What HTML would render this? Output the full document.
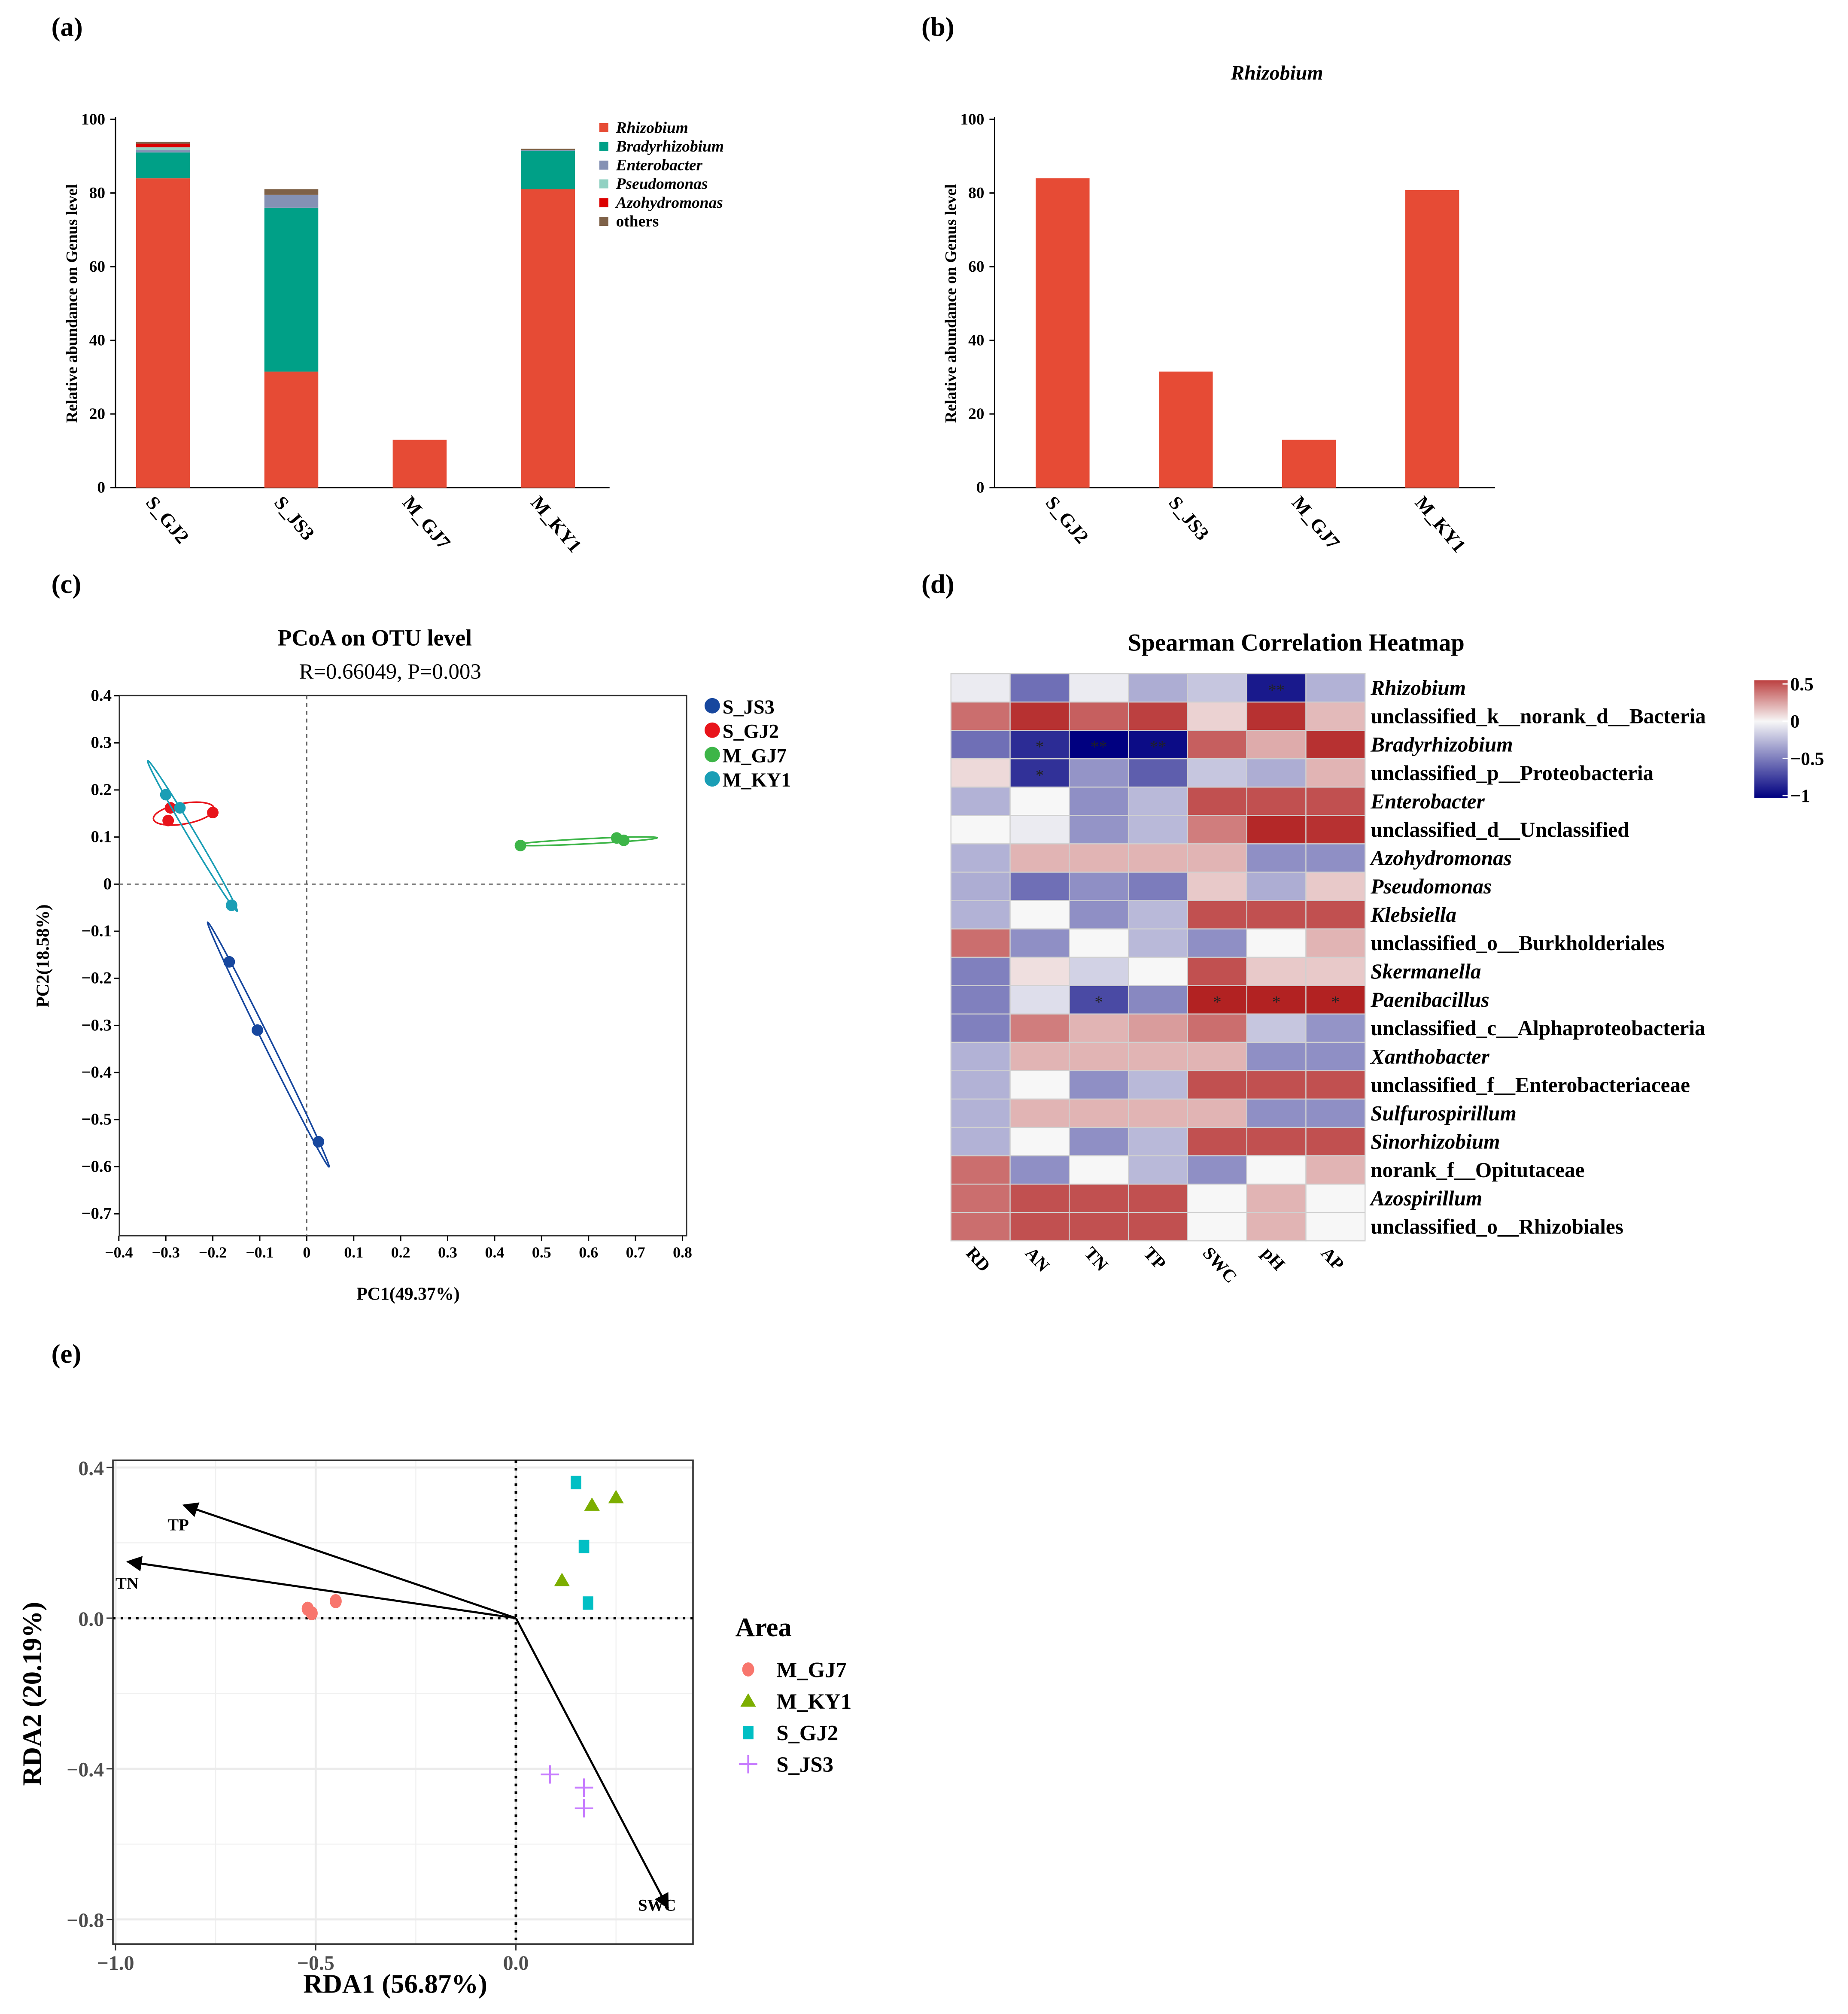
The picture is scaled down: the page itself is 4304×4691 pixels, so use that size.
<!DOCTYPE html>
<html><head><meta charset="utf-8"><style>
html,body{margin:0;padding:0;background:#fff;}
svg{display:block;font-family:"Liberation Serif",serif;}
</style></head><body>
<svg id="fig" width="4304" height="4691" viewBox="0 0 1440 1569.5" xmlns="http://www.w3.org/2000/svg">
</svg>
<script>
// ---------- DATA ----------
const barSamples = ['S_GJ2','S_JS3','M_GJ7','M_KY1'];
const genera = ['Rhizobium','Bradyrhizobium','Enterobacter','Pseudomonas','Azohydromonas','others'];
const rhizobium = [84, 31.5, 13, 81];
const bradyrhizobium = [7, 44.5, 0, 10.5];
const enterobacter = [0.6, 3.5, 0, 0.2];
const pseudomonas = [0.8, 0, 0, 0];
const azohydromonas = [1.0, 0, 0, 0];
const others = [0.5, 1.5, 0, 0.3];
const genusColors = ['#e64b35','#00a087','#8491b4','#91d1c2','#dc0000','#7e6148'];
const rhizOnly = [84, 31.5, 13, 80.8];
const barTicks = [0,20,40,60,80,100];

const pcoaGroups = ['S_JS3','S_GJ2','M_GJ7','M_KY1'];
const pcoaColors = ['#17479e','#e8141b','#3db548','#1a9eb5'];
const pcoaX = [[-0.165,-0.105,0.025],[-0.295,-0.29,-0.2],[0.455,0.66,0.675],[-0.3,-0.27,-0.16]];
const pcoaY = [[-0.165,-0.31,-0.547],[0.135,0.162,0.152],[0.082,0.098,0.093],[0.19,0.162,-0.045]];
const pcoaXTicks = [-0.4,-0.3,-0.2,-0.1,0,0.1,0.2,0.3,0.4,0.5,0.6,0.7,0.8];
const pcoaYTicks = [0.4,0.3,0.2,0.1,0,-0.1,-0.2,-0.3,-0.4,-0.5,-0.6,-0.7];

const hmCols = ['RD','AN','TN','TP','SWC','pH','AP'];
const hmRows = ['Rhizobium','unclassified_k__norank_d__Bacteria','Bradyrhizobium','unclassified_p__Proteobacteria','Enterobacter','unclassified_d__Unclassified','Azohydromonas','Pseudomonas','Klebsiella','unclassified_o__Burkholderiales','Skermanella','Paenibacillus','unclassified_c__Alphaproteobacteria','Xanthobacter','unclassified_f__Enterobacteriaceae','Sulfurospirillum','Sinorhizobium','norank_f__Opitutaceae','Azospirillum','unclassified_o__Rhizobiales'];
const hmItalic = [1,0,1,0,1,0,1,1,1,0,1,1,0,1,0,1,1,0,1,0];
const hmValues = [
[-0.05,-0.55,-0.05,-0.3,-0.2,-0.9,-0.28],
[0.45,0.65,0.5,0.6,0.12,0.65,0.2],
[-0.55,-0.82,-1,-0.95,0.5,0.25,0.65],
[0.1,-0.8,-0.4,-0.62,-0.2,-0.3,0.22],
[-0.28,0,-0.42,-0.25,0.55,0.55,0.55],
[0,-0.05,-0.4,-0.25,0.4,0.68,0.65],
[-0.28,0.22,0.22,0.22,0.22,-0.42,-0.42],
[-0.3,-0.55,-0.42,-0.5,0.15,-0.3,0.15],
[-0.28,0,-0.42,-0.25,0.55,0.55,0.55],
[0.45,-0.42,0,-0.25,-0.42,0,0.22],
[-0.48,0.08,-0.15,0,0.55,0.15,0.15],
[-0.48,-0.1,-0.7,-0.45,0.7,0.7,0.7],
[-0.48,0.4,0.22,0.3,0.45,-0.2,-0.4],
[-0.28,0.22,0.22,0.22,0.22,-0.42,-0.42],
[-0.28,0,-0.42,-0.25,0.55,0.55,0.55],
[-0.28,0.22,0.22,0.22,0.22,-0.42,-0.42],
[-0.28,0,-0.42,-0.25,0.55,0.55,0.55],
[0.45,-0.42,0,-0.25,-0.42,0,0.22],
[0.45,0.55,0.55,0.55,0,0.22,0],
[0.45,0.55,0.55,0.55,0,0.22,0]];
const hmStars = [
['','','','','','**',''],['','','','','','',''],['','*','**','**','','',''],['','*','','','','',''],
['','','','','','',''],['','','','','','',''],['','','','','','',''],['','','','','','',''],
['','','','','','',''],['','','','','','',''],['','','','','','',''],['','','*','','*','*','*'],
['','','','','','',''],['','','','','','',''],['','','','','','',''],['','','','','','',''],
['','','','','','',''],['','','','','','',''],['','','','','','',''],['','','','','','','']];
const cbTicks = [0.5,0,-0.5,-1];
const cbLabels = ['0.5','0','\u22120.5','\u22121'];

const rdaGroups = ['M_GJ7','M_KY1','S_GJ2','S_JS3'];
const rdaColors = ['#f8766d','#7cae00','#00bfc4','#c77cff'];
const rdaX = [[-0.52,-0.51,-0.45],[0.25,0.19,0.115],[0.15,0.17,0.18],[0.085,0.17,0.17]];
const rdaY = [[0.025,0.013,0.045],[0.32,0.3,0.1],[0.36,0.19,0.04],[-0.415,-0.45,-0.505]];
const envNames = ['TP','TN','SWC'];
const envX = [-0.83,-0.97,0.38];
const envY = [0.3,0.15,-0.77];
const rdaXTicks = [-1.0,-0.5,0.0];
const rdaYTicks = [0.4,0.0,-0.4,-0.8];

// ---------- HELPERS ----------
const NS='http://www.w3.org/2000/svg';
const svg=document.getElementById('fig');
function mk(tag,attrs,parent){const e=document.createElementNS(NS,tag);for(const k in attrs)e.setAttribute(k,attrs[k]);(parent||svg).appendChild(e);return e;}
function tx(str,attrs,parent){const e=mk('text',attrs,parent);e.textContent=str;return e;}
function fmt(v){return v<0?'\u2212'+Math.abs(v).toFixed(1):v.toFixed(1);}

[['(a)',40,28],['(b)',718,28],['(c)',40,462],['(d)',718,462],['(e)',40,1062]].forEach(p=>{
 const t=tx(p[0],{x:p[1],y:p[2],'font-size':21,'font-weight':'bold'});
 
 
});

// ---------- PANEL A / B ----------
function barAxes(g,x0,x1,y0,yTop){
 const ys=v=>y0-(y0-yTop)*v/100;
 const ax=mk('line',{x1:x0,y1:y0,x2:x1,y2:y0,stroke:'#000','stroke-width':1},g);
 
 
 const ay=mk('line',{x1:x0,y1:y0,x2:x0,y2:yTop-2,stroke:'#000','stroke-width':1},g);
 
 
 barTicks.forEach(t=>{
  const l=mk('line',{x1:x0-4,y1:ys(t),x2:x0,y2:ys(t),stroke:'#000'},g);
  
  
  const lb=tx(String(t),{x:x0-8,y:ys(t)+4,'font-size':12.5,'font-weight':'bold','text-anchor':'end'},g);
  
  
 });
 const yt=tx('Relative abundance on Genus level',{x:0,y:0,'font-size':12.5,'font-weight':'bold','text-anchor':'middle',transform:`translate(${x0-30},${(y0+yTop)/2}) rotate(-90)`},g);
 
 
 return ys;
}
const gA=mk('g',{});


const aX0=90,aX1=475,aY0=380,aYT=93,aBW=42;
const ysA=barAxes(gA,aX0,aX1,aY0,aYT);
const xA=i=>aX0+37+i*100;
const series=[rhizobium,bradyrhizobium,enterobacter,pseudomonas,azohydromonas,others];
barSamples.forEach((s,i)=>{
 let acc=0;
 series.forEach((ser,k)=>{
  const v=ser[i]; if(v<=0) return;
  const r=mk('rect',{x:xA(i)-aBW/2,y:ysA(acc+v),width:aBW,height:ysA(acc)-ysA(acc+v),fill:genusColors[k]},gA);
  
  
  acc+=v;
 });
 const lb=tx(s,{x:0,y:0,'font-size':15,'font-weight':'bold',transform:`translate(${xA(i)-14},${aY0+12}) rotate(50)`},gA);
 
 
});
genera.forEach((gname,k)=>{
 const y=100+k*14.6;
 const r=mk('rect',{x:467,y:y-4,width:7,height:7,fill:genusColors[k]},gA);
 
 
 const t=tx(gname,{x:480,y:y+3.5,'font-size':12.5,'font-weight':'bold','font-style':k<5?'italic':'normal'},gA);
 
 
});

const gB=mk('g',{});


const bX0=775,bX1=1165;
const ysB=barAxes(gB,bX0,bX1,aY0,aYT);
const xB=i=>bX0+53+i*96;
const bt=tx('Rhizobium',{x:995,y:62,'font-size':16,'font-weight':'bold','font-style':'italic','text-anchor':'middle'},gB);


barSamples.forEach((s,i)=>{
 const r=mk('rect',{x:xB(i)-21,y:ysB(rhizOnly[i]),width:42,height:aY0-ysB(rhizOnly[i]),fill:'#e64b35'},gB);
 
 
 const lb=tx(s,{x:0,y:0,'font-size':15,'font-weight':'bold',transform:`translate(${xB(i)-14},${aY0+12}) rotate(50)`},gB);
 
 
});

// ---------- PANEL C : PCoA ----------
const gC=mk('g',{});


const cL=93,cR=535,cT=542,cB=963;
const xsC=v=>239+v*366;
const ysC=v=>689-v*367;
const frame=mk('rect',{x:cL,y:cT,width:cR-cL,height:cB-cT,fill:'none',stroke:'#333','stroke-width':1},gC);


const zv=mk('line',{x1:xsC(0),y1:cT,x2:xsC(0),y2:cB,stroke:'#666','stroke-dasharray':'3,3'},gC);


const zh=mk('line',{x1:cL,y1:ysC(0),x2:cR,y2:ysC(0),stroke:'#666','stroke-dasharray':'3,3'},gC);


pcoaXTicks.forEach(t=>{
 const l=mk('line',{x1:xsC(t),y1:cB,x2:xsC(t),y2:cB+4,stroke:'#000'},gC);
 
 
 const lb=tx(t===0?'0':(t<0?'\u2212':'')+Math.abs(t).toFixed(1),{x:xsC(t),y:cB+17,'font-size':12,'font-weight':'bold','text-anchor':'middle'},gC);
 
 
});
pcoaYTicks.forEach(t=>{
 const l=mk('line',{x1:cL-4,y1:ysC(t),x2:cL,y2:ysC(t),stroke:'#000'},gC);
 
 
 const lb=tx(t===0?'0':(t<0?'\u2212':'')+Math.abs(t).toFixed(1),{x:cL-6,y:ysC(t)+4,'font-size':13,'font-weight':'bold','text-anchor':'end'},gC);
 
 
});
const ct1=tx('PCoA on OTU level',{x:292,y:503,'font-size':18,'font-weight':'bold','text-anchor':'middle'},gC);


const ct2=tx('R=0.66049, P=0.003',{x:304,y:529,'font-size':17,'text-anchor':'middle'},gC);


const cxl=tx('PC1(49.37%)',{x:318,y:1013,'font-size':14,'font-weight':'bold','text-anchor':'middle'},gC);


const cyl=tx('PC2(18.58%)',{x:0,y:0,'font-size':14,'font-weight':'bold','text-anchor':'middle',transform:'translate(38,745) rotate(-90)'},gC);


pcoaGroups.forEach((gname,k)=>{
 const px=pcoaX[k].map(xsC), py=pcoaY[k].map(ysC);
 let bi=0,bj=1,bd=0;
 for(let i=0;i<3;i++)for(let j=i+1;j<3;j++){const d=Math.hypot(px[i]-px[j],py[i]-py[j]);if(d>bd){bd=d;bi=i;bj=j;}}
 const cx=(px[0]+px[1]+px[2])/3, cy=(py[0]+py[1]+py[2])/3;
 const ang=Math.atan2(py[bj]-py[bi],px[bj]-px[bi])*180/Math.PI;
 const ry=gname==='S_GJ2'?8:(gname==='M_GJ7'?2:3);
 const el=mk('ellipse',{cx:cx,cy:cy,rx:bd*0.68,ry:ry,fill:'none',stroke:pcoaColors[k],'stroke-width':1.2,transform:`rotate(${ang},${cx},${cy})`},gC);
 
 
 px.forEach((x,i)=>{
  const c=mk('circle',{cx:x,cy:py[i],r:4.5,fill:pcoaColors[k]},gC);
  
  
 });
 const lc=mk('circle',{cx:555,cy:550+k*19,r:6,fill:pcoaColors[k]},gC);
 
 
 const lt=tx(gname,{x:563,y:556+k*19,'font-size':15.5,'font-weight':'bold'},gC);
 
 
});

// ---------- PANEL D : HEATMAP ----------
const gD=mk('g',{});


const hL=741,hT=525,cw=46.1,rh=22.1;
function hcol(v){
 if(v<0){const t=Math.min(1,-v);return `rgb(${Math.round(247-247*t)},${Math.round(247-247*t)},${Math.round(247-119*t)})`;}
 const t=Math.min(1,v/0.7);return `rgb(${Math.round(247-69*t)},${Math.round(247-213*t)},${Math.round(247-213*t)})`;
}
const ht=tx('Spearman Correlation Heatmap',{x:1010,y:507,'font-size':19,'font-weight':'bold','text-anchor':'middle'},gD);


hmRows.forEach((rn,r)=>{
 hmCols.forEach((cn,c)=>{
  const rc=mk('rect',{x:hL+c*cw,y:hT+r*rh,width:cw,height:rh,fill:hcol(hmValues[r][c]),stroke:'#d0d0d0','stroke-width':0.8},gD);
  
  
  if(hmStars[r][c]){
   const s=tx(hmStars[r][c],{x:hL+c*cw+cw/2,y:hT+r*rh+rh/2+6,'font-size':13,'text-anchor':'middle',fill:'#222'},gD);
   
   
  }
 });
 const lb=tx(rn,{x:1068,y:hT+r*rh+rh/2+5.5,'font-size':16.5,'font-weight':'bold','font-style':hmItalic[r]?'italic':'normal'},gD);
 
 
});
hmCols.forEach((cn,c)=>{
 const lb=tx(cn,{x:0,y:0,'font-size':14,'font-weight':'bold',transform:`translate(${hL+c*cw+cw/2-12},${hT+20*rh+10}) rotate(48)`},gD);
 
 
});
const defs=mk('defs',{});
const grad=mk('linearGradient',{id:'cbg',x1:0,y1:0,x2:0,y2:1},defs);
[[0,0.6],[0.35,0],[0.67,-0.5],[1,-1]].forEach(p=>{mk('stop',{offset:p[0],'stop-color':hcol(p[1])},grad);});
const cbv=v=>562-v*58;
const cb=mk('rect',{x:1367,y:cbv(0.55),width:26,height:cbv(-1.03)-cbv(0.55),fill:'url(#cbg)'},gD);


cbTicks.forEach((t,i)=>{
 const l=mk('line',{x1:1389,y1:cbv(t),x2:1393,y2:cbv(t),stroke:'#fff'},gD);
 
 
 const lb=tx(cbLabels[i],{x:1395,y:cbv(t)+5,'font-size':14.5,'font-weight':'bold'},gD);
 
 
});

// ---------- PANEL E : RDA ----------
const gE=mk('g',{});


const eL=88,eR=540,eT=1138,eB=1515;
const xsE=v=>402+v*312;
const ysE=v=>1261-v*293.5;
[-0.75,-0.25,0.25].forEach(v=>{const l=mk('line',{x1:xsE(v),y1:eT,x2:xsE(v),y2:eB,stroke:'#f0f0f0','stroke-width':0.8},gE);});
[0.2,-0.2,-0.6].forEach(v=>{const l=mk('line',{x1:eL,y1:ysE(v),x2:eR,y2:ysE(v),stroke:'#f0f0f0','stroke-width':0.8},gE);});
rdaXTicks.forEach(v=>{
 const l=mk('line',{x1:xsE(v),y1:eT,x2:xsE(v),y2:eB,stroke:'#ebebeb','stroke-width':1.6},gE);
 
 
 const tk=mk('line',{x1:xsE(v),y1:eB,x2:xsE(v),y2:eB+5,stroke:'#333'},gE);
 
 
 const lb=tx(fmt(v),{x:xsE(v),y:eB+20,'font-size':16,'font-weight':'bold','fill':'#4d4d4d','text-anchor':'middle'},gE);
 
 
});
rdaYTicks.forEach(v=>{
 const l=mk('line',{x1:eL,y1:ysE(v),x2:eR,y2:ysE(v),stroke:'#ebebeb','stroke-width':1.6},gE);
 
 
 const tk=mk('line',{x1:eL-5,y1:ysE(v),x2:eL,y2:ysE(v),stroke:'#333'},gE);
 
 
 const lb=tx(fmt(v),{x:eL-7,y:ysE(v)+6,'font-size':16,'font-weight':'bold','fill':'#4d4d4d','text-anchor':'end'},gE);
 
 
});
const ef=mk('rect',{x:eL,y:eT,width:eR-eL,height:eB-eT,fill:'none',stroke:'#333','stroke-width':1.2},gE);


const ezv=mk('line',{x1:xsE(0),y1:eT,x2:xsE(0),y2:eB,stroke:'#000','stroke-width':2,'stroke-dasharray':'2,4'},gE);


const ezh=mk('line',{x1:eL,y1:ysE(0),x2:eR,y2:ysE(0),stroke:'#000','stroke-width':2,'stroke-dasharray':'2,4'},gE);


const mdef=mk('marker',{id:'ah',markerWidth:12,markerHeight:12,refX:11,refY:6,orient:'auto',markerUnits:'userSpaceOnUse'},defs);
mk('path',{d:'M0,0 L12,6 L0,12 Z',fill:'#000'},mdef);
const envLabelPos=[[-0.87,0.25],[-1.0,0.095],[0.305,-0.76]];
envNames.forEach((n,i)=>{
 const a=mk('line',{x1:xsE(0),y1:ysE(0),x2:xsE(envX[i]),y2:ysE(envY[i]),stroke:'#000','stroke-width':1.6,'marker-end':'url(#ah)'},gE);
 
 
 const t=tx(n,{x:xsE(envLabelPos[i][0]),y:ysE(envLabelPos[i][1])+5,'font-size':13,'font-weight':'bold'},gE);
 
 
});
function marker(k,x,y,s,parent){
 let e;
 if(k===0) e=mk('ellipse',{cx:x,cy:y,rx:s*0.85,ry:s,fill:rdaColors[0]},parent);
 else if(k===1) e=mk('path',{d:`M${x},${y-s*1.1} L${x+s*1.1},${y+s*0.8} L${x-s*1.1},${y+s*0.8} Z`,fill:rdaColors[1]},parent);
 else if(k===2) e=mk('rect',{x:x-s*0.75,y:y-s*0.95,width:s*1.5,height:s*1.9,fill:rdaColors[2]},parent);
 else e=mk('path',{d:`M${x-s*1.3},${y} L${x+s*1.3},${y} M${x},${y-s*1.3} L${x},${y+s*1.3}`,stroke:rdaColors[3],'stroke-width':1.4,fill:'none'},parent);
 return e;
}
rdaGroups.forEach((gname,k)=>{
 rdaX[k].forEach((xv,i)=>{
  const m=marker(k,xsE(xv),ysE(rdaY[k][i]),5.5,gE);
  
  
 });
 const lm=marker(k,583,1301+k*24.6,5.5,gE);
 
 
 const lt=tx(gname,{x:605,y:1307+k*24.6,'font-size':17,'font-weight':'bold'},gE);
 
 
});
const lgT=tx('Area',{x:573,y:1275,'font-size':21,'font-weight':'bold'},gE);


const exl=tx('RDA1 (56.87%)',{x:308,y:1553,'font-size':21,'font-weight':'bold','text-anchor':'middle'},gE);


const eyl=tx('RDA2 (20.19%)',{x:0,y:0,'font-size':21,'font-weight':'bold','text-anchor':'middle',transform:'translate(32,1320) rotate(-90)'},gE);


</script>
</body></html>
